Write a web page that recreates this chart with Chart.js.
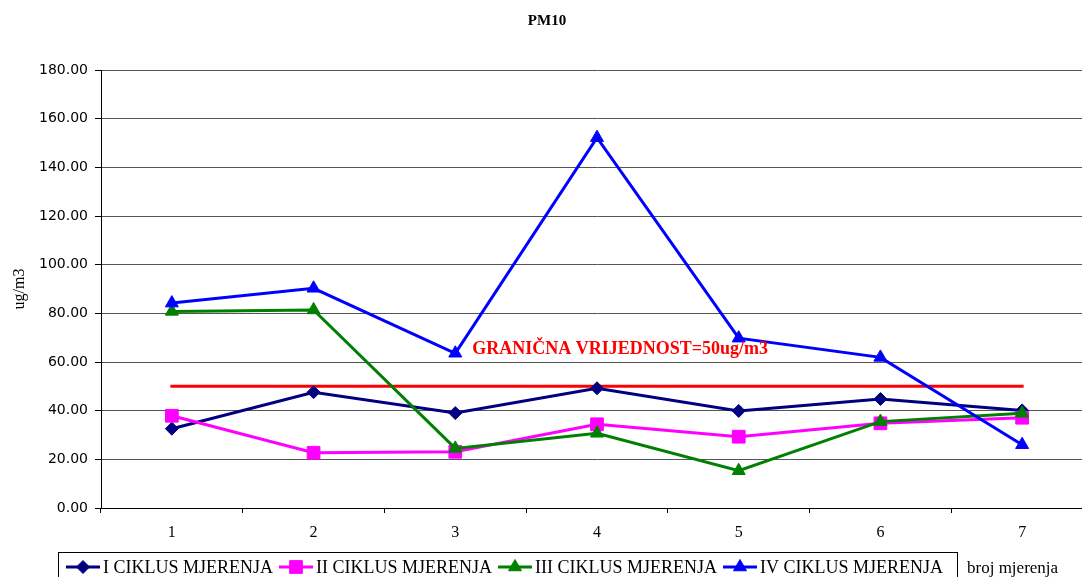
<!DOCTYPE html>
<html>
<head>
<meta charset="utf-8">
<script src="https://cdn.jsdelivr.net/npm/chart.js@4"></script>
<style>
  html, body { margin: 0; padding: 0; background: #fff; overflow: hidden; }
  #wrap { width: 1093px; height: 577px; overflow: hidden; }
</style>
</head>
<body>
<div id="wrap"><canvas id="chart" width="1093" height="577"></canvas></div>
<script>
// categories (broj mjerenja)
const categories = ["1", "2", "3", "4", "5", "6", "7"];

// PM10 values, ug/m3
const cycle1 = [32.6, 47.6, 39.0, 49.2, 39.9, 44.8, 40.1];
const cycle2 = [37.9, 22.7, 23.1, 34.4, 29.3, 34.8, 37.1];
const cycle3 = [80.8, 81.4, 24.5, 30.7, 15.3, 35.5, 38.9];
const cycle4 = [84.2, 90.3, 63.6, 152.2, 69.8, 61.9, 26.0];
const limitValue = 50;
const limitLine = categories.map(() => limitValue);

const seriesNames = ["I CIKLUS MJERENJA", "II CIKLUS MJERENJA", "III CIKLUS MJERENJA", "IV CIKLUS MJERENJA"];
const seriesColors = ["#000080", "#FF00FF", "#008000", "#0000FF"];
const seriesStyles = ["rectRot", "rect", "triangle", "triangle"];
const seriesRadius = [6.5, 9, 7.5, 7.5];

const chartTitle = "PM10";
const yTitle = "ug/m3";
const xTitle = "broj mjerenja";
const limitLabel = "GRANIČNA VRIJEDNOST=50ug/m3";

const serif = '"Liberation Serif", "Times New Roman", serif';

function makeSeries(i, data) {
    return {
        label: seriesNames[i],
        data: data,
        borderColor: seriesColors[i],
        backgroundColor: seriesColors[i],
        borderWidth: 3,
        pointStyle: seriesStyles[i],
        pointRadius: seriesRadius[i],
        pointBorderWidth: 1,
        pointBackgroundColor: seriesColors[i],
        pointBorderColor: seriesColors[i],
        tension: 0,
        clip: false,
        order: 4 - i
    };
}

// draws title, limit label, the boxed legend and the x axis title
const extras = {
    id: "extras",
    afterDraw(chart) {
        const ctx = chart.ctx;
        const yScale = chart.scales.y;
        const xScale = chart.scales.x;
        ctx.save();

        // title
        ctx.fillStyle = "#000";
        ctx.font = "bold 15px " + serif;
        ctx.textAlign = "center";
        ctx.textBaseline = "middle";
        ctx.fillText(chartTitle, 547, 21);

        // limit label, next to point 3 above the line
        ctx.fillStyle = "#FF0000";
        ctx.font = "bold 18px " + serif;
        ctx.textAlign = "left";
        ctx.fillText(limitLabel, xScale.getPixelForValue(2) + 17, yScale.getPixelForValue(65.3));

        // legend
        ctx.font = "18px " + serif;
        ctx.strokeStyle = "#000";
        ctx.lineWidth = 1;
        ctx.strokeRect(58.5, 552.5, 899, 40);
        let x = 66;
        const ly = 567;
        chart.data.datasets.forEach((ds) => {
            if (!ds.label || ds.label === "limit") return;
            ctx.strokeStyle = ds.borderColor;
            ctx.fillStyle = ds.borderColor;
            ctx.lineWidth = 3;
            ctx.beginPath();
            ctx.moveTo(x, ly);
            ctx.lineTo(x + 34, ly);
            ctx.stroke();
            ctx.lineWidth = 1;
            Chart.helpers.drawPoint(ctx, {
                pointStyle: ds.pointStyle,
                radius: ds.pointRadius,
                rotation: 0,
                borderWidth: 1
            }, x + 17, ly);
            x += 37;
            ctx.fillStyle = "#000";
            ctx.fillText(ds.label, x, ly + 1);
            x += ctx.measureText(ds.label).width + 6;
        });

        // x axis title
        ctx.fillStyle = "#000";
        ctx.font = "17px " + serif;
        ctx.fillText(xTitle, 967, 569);
        ctx.restore();
    }
};

new Chart(document.getElementById("chart"), {
    type: "line",
    data: {
        labels: categories,
        datasets: [
            makeSeries(0, cycle1),
            makeSeries(1, cycle2),
            makeSeries(2, cycle3),
            makeSeries(3, cycle4),
            {
                label: "limit",
                data: limitLine,
                borderColor: "#FF0000",
                borderWidth: 3,
                pointRadius: 0,
                borderCapStyle: "square",
                order: 10
            }
        ]
    },
    options: {
        responsive: false,
        animation: false,
        devicePixelRatio: 1,
        layout: {
            autoPadding: false,
            padding: { top: 70, left: 0, right: 0, bottom: 0 }
        },
        plugins: {
            legend: { display: false },
            title: { display: false },
            tooltip: { enabled: false }
        },
        scales: {
            x: {
                offset: true,
                afterFit: (s) => { s.height = 69; },
                grid: {
                    offset: true,
                    drawOnChartArea: false,
                    drawTicks: true,
                    tickLength: 5,
                    color: "#000"
                },
                border: { color: "#000", width: 1 },
                ticks: {
                    color: "#000",
                    padding: 10,
                    font: { family: serif, size: 16 }
                }
            },
            y: {
                min: 0,
                max: 180,
                afterFit: (s) => { s.width = 101; },
                grid: {
                    color: "#555",
                    lineWidth: 1,
                    tickLength: 6,
                    tickColor: "#000"
                },
                border: { color: "#000", width: 1 },
                ticks: {
                    stepSize: 20,
                    color: "#000",
                    padding: 7,
                    font: { family: '"DejaVu Sans", sans-serif', size: 14 },
                    callback: (v) => v.toFixed(2)
                },
                title: {
                    display: true,
                    text: yTitle,
                    color: "#000",
                    padding: { top: 10, bottom: 0 },
                    font: { family: serif, size: 16 }
                }
            }
        }
    },
    plugins: [extras]
});
</script>
</body>
</html>
